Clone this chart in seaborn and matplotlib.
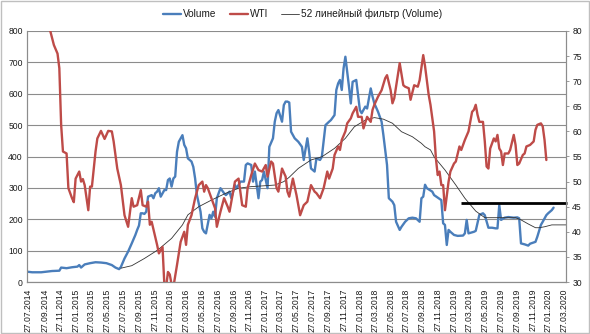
import numpy as np
import pandas as pd
import matplotlib
matplotlib.use("Agg")
import matplotlib.pyplot as plt
import matplotlib.dates as mdates
from matplotlib.patches import Rectangle
import seaborn as sns

# ---- data (weeks counted from 27.07.2014) ----
vol_weeks = [-1, 2, 7, 13, 17, 18, 21, 24, 27, 28, 29, 31, 34, 37, 40, 43, 46, 48, 50, 51,
             53, 55, 57, 59, 60, 61, 62, 63, 64, 65, 66, 68, 69, 70, 71, 72, 73, 75, 76, 77,
             78, 79, 80, 81, 82, 83, 85, 86, 87, 88, 90, 91, 92, 93, 95, 96, 97, 98, 100, 101,
             102, 103, 104, 106, 108, 109, 111, 112, 114, 115, 117, 119, 120, 121, 123, 124, 125, 127, 128, 129,
             130, 132, 133, 135, 136, 137, 138, 140, 141, 142, 143, 144, 145, 147, 149, 151, 152, 154, 155, 156,
             158, 159, 161, 162, 164, 166, 167, 169, 170, 171, 172, 173, 174, 175, 176, 177, 178, 179, 181, 182,
             183, 184, 186, 187, 189, 190, 191, 193, 195, 196, 198, 199, 201, 202, 203, 205, 206, 208, 210, 212,
             214, 216, 217, 218, 219, 220, 223, 224, 226, 228, 229, 230, 231, 232, 233, 235, 237, 240, 241, 242,
             243, 246, 247, 249, 251, 252, 254, 256, 258, 259, 260, 261, 263, 265, 268, 270, 271, 272, 274, 276,
             277, 280, 281, 283, 284, 286, 287, 289, 290]
volume = [33, 31, 31, 35, 36, 46, 44, 47, 49, 54, 46, 56, 60, 63, 62, 60, 54, 46, 41, 48,
          75, 97, 123, 150, 166, 180, 219, 219, 217, 224, 272, 277, 267, 283, 288, 299, 272, 293, 293, 325,
          330, 304, 330, 336, 415, 447, 468, 437, 426, 394, 384, 367, 330, 277, 224, 171, 160, 155, 214, 203,
          224, 208, 267, 299, 283, 277, 288, 267, 309, 299, 320, 320, 373, 378, 373, 320, 352, 267, 320, 325,
          352, 299, 431, 458, 511, 538, 548, 511, 564, 575, 575, 572, 479, 458, 447, 431, 389, 458, 415, 362,
          352, 394, 389, 399, 500, 511, 516, 532, 612, 633, 644, 612, 681, 718, 670, 622, 569, 638, 644, 596,
          548, 538, 559, 553, 617, 591, 569, 543, 511, 468, 373, 267, 256, 245, 192, 166, 176, 192, 203, 205,
          203, 192, 267, 272, 310, 299, 288, 277, 269, 261, 187, 182, 118, 166, 160, 150, 147, 148, 155, 198,
          155, 160, 163, 214, 219, 213, 173, 173, 171, 171, 245, 198, 205, 207, 205, 206, 203, 123, 120, 116,
          122, 128, 144, 182, 192, 213, 219, 229, 237]

wti_weeks = [-1, 2, 5, 8, 10, 12, 14, 16, 17, 18, 19, 21, 22, 24, 25, 26, 28, 29, 30, 31,
             33, 34, 35, 37, 38, 40, 42, 44, 46, 47, 49, 51, 53, 55, 57, 58, 60, 62, 63, 65,
             66, 67, 68, 71, 72, 74, 75, 76, 77, 78, 79, 80, 82, 84, 86, 87, 88, 90, 92, 94,
             96, 97, 98, 99, 101, 103, 104, 106, 108, 110, 111, 113, 114, 116, 118, 120, 121, 123, 125, 127,
             129, 131, 132, 134, 135, 137, 138, 140, 142, 143, 144, 146, 148, 150, 152, 154, 156, 158, 159, 161,
             163, 165, 166, 168, 169, 171, 172, 173, 175, 176, 178, 179, 181, 182, 184, 185, 187, 189, 190, 191,
             193, 195, 197, 198, 200, 201, 202, 204, 205, 207, 208, 210, 211, 213, 215, 216, 218, 219, 221, 222,
             224, 225, 226, 227, 228, 229, 230, 232, 233, 235, 236, 238, 239, 241, 243, 245, 246, 247, 248, 249,
             251, 252, 253, 254, 255, 257, 258, 259, 260, 261, 262, 263, 265, 266, 268, 269, 270, 271, 273, 274,
             275, 277, 279, 280, 281, 283, 284, 285, 286]
wti = [103, 98, 97, 93, 88, 80, 77.2, 75.5, 72.6, 61.3, 56, 55.6, 48.7, 46.7, 45.9, 50.6, 52, 50, 50.5, 49.3,
       44.3, 49, 49, 56, 58.6, 60.1, 58.5, 60.1, 60, 58, 52.6, 49.3, 43.3, 41, 46.7, 45, 45.3, 48.3, 45.3, 45,
       46, 41.4, 42, 37.4, 35.7, 37, 29.5, 29, 32, 31.5, 29.5, 29, 33.4, 38, 40, 37.4, 41.4, 43.3, 46.7, 49.3,
       50, 48, 49.3, 48.7, 46.7, 44.7, 41, 44, 46.7, 45, 44, 48, 50, 50.6, 45.3, 45, 48.7, 51.3, 53.6, 52.3,
       52, 53.3, 51, 54, 53.6, 48.7, 48, 52.6, 51, 48, 47, 50.6, 47.3, 43.3, 45.3, 46, 49.3, 48, 47.7, 46.7,
       48.7, 52, 50.6, 52.6, 55.3, 57, 56.3, 58.3, 60, 61.6, 62.6, 63.6, 64.9, 62.9, 62.9, 60.6, 62.9, 61.9, 64.3, 65.3,
       66.9, 68.2, 70.6, 71.2, 68.2, 65.6, 66.6, 71.2, 73.6, 69.2, 68.9, 68.6, 66.3, 69.2, 68.9, 70.2, 75.2, 73, 67.3, 65.3,
       60, 54.6, 51.3, 52, 49.3, 49.3, 44.3, 50, 52, 53.6, 54, 57, 56.3, 58.3, 60, 63.9, 64.3, 65.3, 63.3, 61.9,
       61.9, 58, 53, 52.6, 56.6, 58.6, 58, 59.3, 56.6, 56, 53.3, 55.6, 55.6, 56.3, 59.3, 57.3, 53.3, 53.6, 55.3, 55.6,
       57, 57.3, 58, 60.3, 61.3, 61.6, 61, 58.3, 54.3]

ma_weeks = [51, 57, 64, 70, 72, 79, 85, 88, 94, 101, 109, 116, 123, 131, 136, 141, 144, 149, 156, 162,
            169, 175, 180, 186, 191, 196, 201, 206, 212, 217, 219, 222, 224, 230, 236, 241, 247, 252, 259, 269,
            272, 276, 280, 282, 285, 289, 293, 297]
ma52 = [44, 52, 75, 97, 105, 139, 182, 214, 240, 261, 283, 299, 304, 307, 309, 320, 334, 362, 389, 399,
        426, 458, 495, 516, 524, 519, 506, 479, 463, 442, 431, 421, 399, 357, 309, 267, 226, 205, 205, 205,
        198, 185, 173, 173, 176, 182, 182, 182]

level_value = 251
level_start, level_end = "2019-02-22", "2020-04-06"

series_names = ["Volume", "WTI", "52 линейный фильтр (Volume)"]

base = pd.Timestamp("2014-07-27")
def to_dates(weeks):
    return base + pd.to_timedelta(np.array(weeks) * 7, unit="D")

df_vol = pd.DataFrame({"date": to_dates(vol_weeks), "value": volume})
df_wti = pd.DataFrame({"date": to_dates(wti_weeks), "value": wti})
df_ma = pd.DataFrame({"date": to_dates(ma_weeks), "value": ma52})

# ---- style ----
sns.set_theme(style="white")
plt.rcParams["font.family"] = ["Liberation Sans", "DejaVu Sans"]
BLUE, RED = "#4A7EBB", "#BE4B48"
GRID = "#8C8C8C"
TXT = "#1A1A1A"

fig = plt.figure(figsize=(5.90, 3.34), dpi=100)
ax = fig.add_axes([27 / 590, 1 - 282 / 334, (566 - 27) / 590, (282 - 31) / 334])
ax2 = ax.twinx()

sns.lineplot(data=df_vol, x="date", y="value", ax=ax, color=BLUE, lw=1.7, label=series_names[0], legend=False)
sns.lineplot(data=df_ma, x="date", y="value", ax=ax, color="#333333", lw=0.6, label=series_names[2], legend=False)
sns.lineplot(data=df_wti, x="date", y="value", ax=ax2, color=RED, lw=1.7, label=series_names[1], legend=False)
ax.hlines(level_value, pd.Timestamp(level_start), pd.Timestamp(level_end), color="black", lw=2.0,
          clip_on=False, zorder=5)

ax.set_ylim(0, 800)
ax2.set_ylim(30, 80)
ax.set_yticks(np.arange(0, 801, 100))
ax2.set_yticks(np.arange(30, 81, 5))
ax.set_xlim(pd.Timestamp("2014-07-21"), pd.Timestamp("2020-04-04"))

ticks = [pd.Timestamp("2014-07-27") + pd.DateOffset(months=2 * i) for i in range(35)]
ax.set_xticks(ticks)
ax.xaxis.set_major_formatter(mdates.DateFormatter("%d.%m.%Y"))
for lab in ax.get_xticklabels():
    lab.set_rotation(90)

ax.grid(axis="y", color=GRID, lw=0.8)
ax.set_axisbelow(True)
ax.set_xlabel("")
ax.set_ylabel("")
ax2.set_ylabel("")
ax2.grid(False)

for a in (ax, ax2):
    a.spines["top"].set_visible(False)
    for s in ("left", "right", "bottom"):
        a.spines[s].set_color(GRID)
        a.spines[s].set_linewidth(0.8)
    a.tick_params(labelsize=6.2, colors=TXT, length=2.5, width=0.6, pad=2)
    a.tick_params(axis="both", color=GRID)
ax.tick_params(axis="y", length=0, pad=3)
ax.tick_params(axis="x", length=2.5, pad=2)
ax2.tick_params(axis="y", length=2.5, pad=2)

h1, l1 = ax.get_legend_handles_labels()
h2, l2 = ax2.get_legend_handles_labels()
order = {series_names[0]: 0, series_names[1]: 1, series_names[2]: 2}
pairs = sorted(zip(h1 + h2, l1 + l2), key=lambda p: order[p[1]])
fig.legend([p[0] for p in pairs], [p[1] for p in pairs], loc="center",
           bbox_to_anchor=(0.513, 1 - 14 / 334), ncol=3, frameon=False, fontsize=7.2,
           handlelength=1.8, handletextpad=0.2, columnspacing=1.3, labelcolor=TXT)

fig.patches.append(Rectangle((0.0015, 0.003), 0.997, 0.994, transform=fig.transFigure,
                             fill=False, edgecolor="#BFBFBF", lw=1.0))

fig.savefig("out.png", dpi=100)
